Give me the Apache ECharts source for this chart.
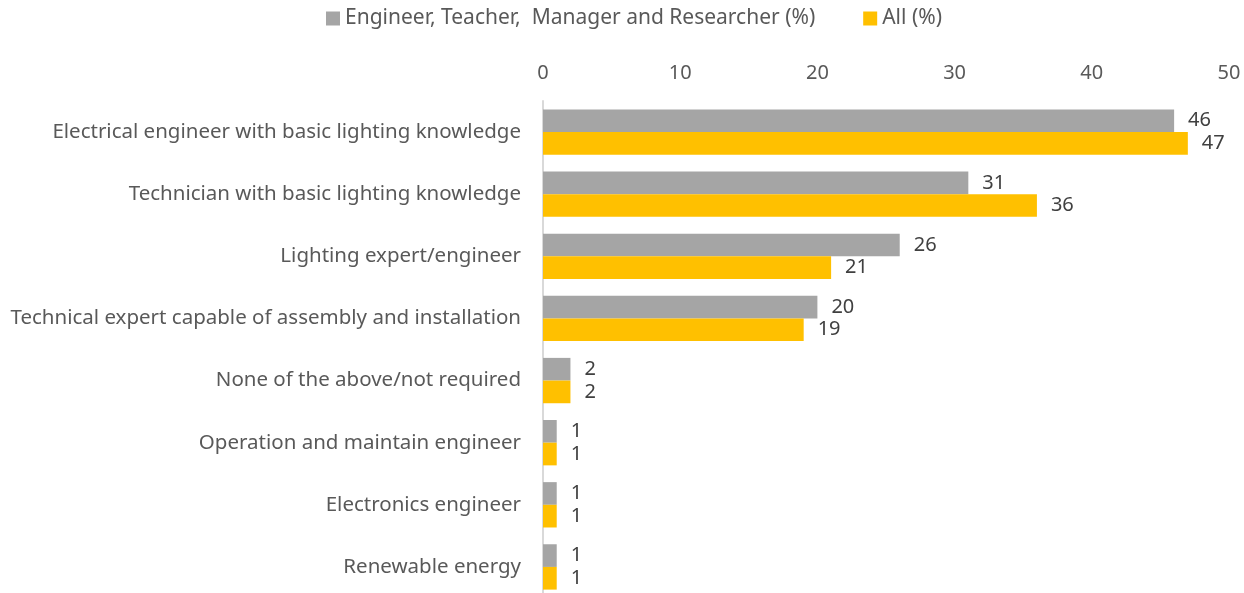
<!DOCTYPE html>
<html>
<head>
<meta charset="utf-8">
<script src="https://cdn.jsdelivr.net/npm/echarts@6/dist/echarts.min.js"></script>
<style>
  html, body { margin: 0; padding: 0; background: #fff; }
  #chart { width: 1244px; height: 593px; }
</style>
</head>
<body>
<div id="chart"></div>
<script>
// skills needed - by group
var categories = [
    'Electrical engineer with basic lighting knowledge',
    'Technician with basic lighting knowledge',
    'Lighting expert/engineer',
    'Technical expert capable of assembly and installation',
    'None of the above/not required',
    'Operation and maintain engineer',
    'Electronics engineer',
    'Renewable energy'
];
var engTeacherValues = [46, 31, 26, 20, 2, 1, 1, 1];
var allValues = [47, 36, 21, 19, 2, 1, 1, 1];
var seriesNames = ['Engineer, Teacher,  Manager and Researcher (%)', 'All (%)'];

var fontFam = '"Noto Sans", sans-serif';
var chart = echarts.init(document.getElementById('chart'));
var option = {
    animation: false,
    textStyle: { fontFamily: fontFam },
    legend: {
        data: seriesNames,
        top: 3,
        left: 321,
        itemWidth: 14,
        itemHeight: 14,
        itemGap: 48,
        icon: 'rect',
        textStyle: { fontSize: 21, color: '#595959', fontFamily: fontFam }
    },
    grid: {
        left: 543,
        right: 15,
        top: 101,
        height: 497,
        outerBoundsMode: 'none'
    },
    xAxis: {
        type: 'value',
        position: 'top',
        min: 0,
        max: 50,
        interval: 10,
        axisLine: { show: false },
        axisTick: { show: false },
        splitLine: { show: false },
        axisLabel: { fontSize: 20, color: '#595959', margin: 18, fontFamily: fontFam }
    },
    yAxis: {
        type: 'category',
        inverse: true,
        data: categories,
        axisLine: { show: true, lineStyle: { color: '#D9D9D9', width: 2 } },
        axisTick: { show: false },
        axisLabel: { fontSize: 20.5, color: '#595959', margin: 22, fontFamily: fontFam }
    },
    series: [
        {
            name: seriesNames[0],
            type: 'bar',
            data: engTeacherValues,
            itemStyle: { color: '#A5A5A5' },
            barGap: '0%',
            barCategoryGap: '27%',
            label: { show: true, position: 'right', distance: 14, fontSize: 20, color: '#404040', fontFamily: fontFam }
        },
        {
            name: seriesNames[1],
            type: 'bar',
            data: allValues,
            itemStyle: { color: '#FFC000' },
            barGap: '0%',
            barCategoryGap: '27%',
            label: { show: true, position: 'right', distance: 14, fontSize: 20, color: '#404040', fontFamily: fontFam }
        }
    ]
};
chart.setOption(option);
</script>
</body>
</html>
